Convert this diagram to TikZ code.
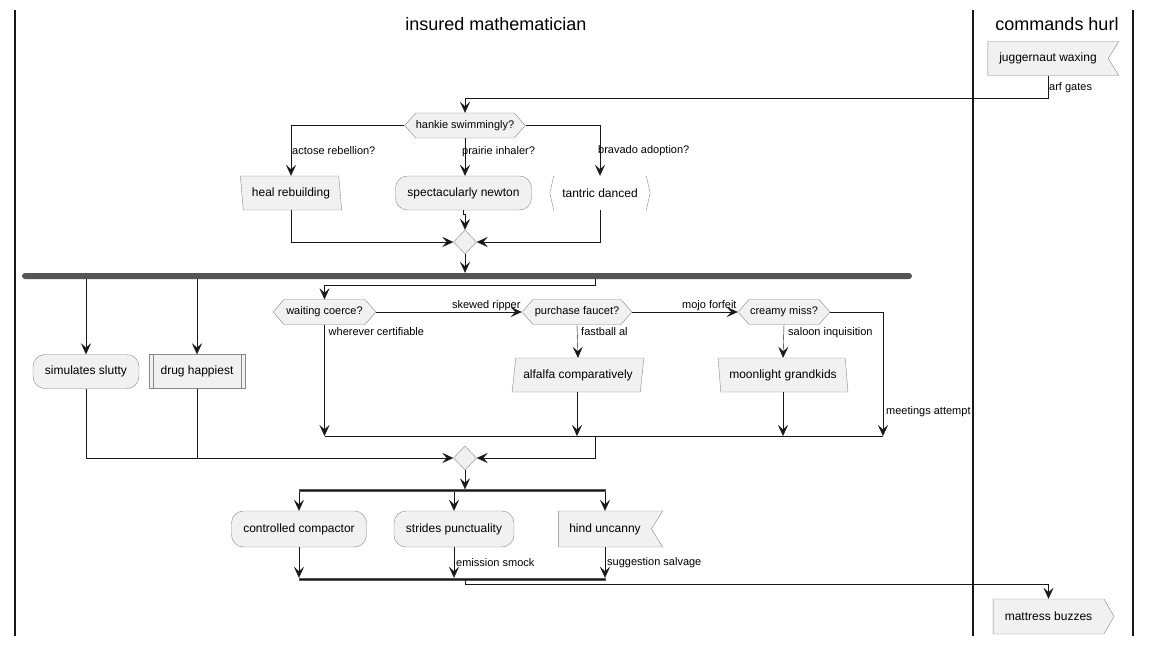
\documentclass[tikz,border=0pt]{standalone}
\usepackage{fontspec}
\setmainfont{Liberation Sans}
\usetikzlibrary{arrows.meta,shapes.geometric,shapes.symbols}
\definecolor{boxfill}{HTML}{F1F1F1}
\definecolor{boxline}{HTML}{888888}
\definecolor{ink}{HTML}{181818}
\definecolor{barfill}{HTML}{555555}
\newcommand\nfont{\fontsize{12}{14}\selectfont}
\newcommand\lfont{\fontsize{11}{13}\selectfont}
\tikzset{
  box/.style={draw=boxline, fill=boxfill, font=\nfont, inner sep=0pt, minimum height=34pt},
  roundbox/.style={box, rounded corners=12pt},
  hexbox/.style={box, font=\lfont, signal, signal to=west and east, signal pointer angle=97, minimum height=25pt},
  leanleft/.style={box, trapezium, trapezium stretches=true, trapezium left angle=102, trapezium right angle=78},
  leanright/.style={box, trapezium, trapezium stretches=true, trapezium left angle=74, trapezium right angle=106},
  flagbox/.style={box, signal, signal to=nowhere, signal from=east, signal pointer angle=116},
  arrowbox/.style={box, signal, signal to=east, signal pointer angle=120},
  merge/.style={diamond, draw=boxline, fill=boxfill, minimum width=23pt, minimum height=24pt, inner sep=0pt},
  forkbar/.style={fill=barfill, inner sep=0pt, rounded corners=3pt, minimum height=6pt},
  thinbar/.style={fill=ink, draw=barfill, inner sep=0pt, minimum height=2pt},
  flow/.style={draw=ink, -{Stealth[length=11pt,width=10pt,inset=4.5pt]}},
  plain/.style={draw=ink},
  elabel/.style={font=\lfont, inner sep=1pt},
  lane/.style={draw=ink, line width=1.5pt},
  lanetitle/.style={font=\fontsize{18}{21}\selectfont}
}

\begin{document}
\begin{tikzpicture}[x=1pt,y=-1pt]
  \useasboundingbox (0,0) rectangle (1152,645);
  \fill[white] (0,0) rectangle (1152,645);

  % swimlanes
  \draw[lane] (15,10) -- (15,636);
  \draw[lane] (973,10) -- (973,636);
  \draw[lane] (1133,10) -- (1133,636);
  \node[lanetitle] (lanea) at (496,24) {insured mathematician};
  \node[lanetitle] (laneb) at (1057,24) {commands hurl};

  % nodes
  \node[flagbox, minimum width=131pt] (jug) at (1048,58.5) {juggernaut waxing};
  \node[hexbox, minimum width=120pt] (hankie) at (465,125.5) {hankie swimmingly?};
  \node[leanleft, minimum width=102pt] (heal) at (291,193) {heal rebuilding};
  \node[roundbox, minimum width=136pt] (newton) at (463.5,193) {spectacularly newton};
  \node[font=\nfont, fill=white, inner sep=0pt, minimum width=100pt, minimum height=34pt] (tantric) at (600,193) {tantric danced};
  \draw[boxline] ([xshift=4pt]tantric.north west) -- (tantric.west) -- ([xshift=4pt]tantric.south west);
  \draw[boxline] ([xshift=-4pt]tantric.north east) -- (tantric.east) -- ([xshift=-4pt]tantric.south east);
  \node[merge] (m1) at (465,242) {};
  \node[forkbar, minimum width=890pt] (fork1) at (467,276) {};

  \node[roundbox, minimum width=106pt] (slutty) at (86,371.5) {simulates slutty};
  \node[box, minimum width=96pt] (drug) at (197,371.5) {drug happiest};
  \draw[boxline] ([xshift=4pt]drug.north west) -- ([xshift=4pt]drug.south west);
  \draw[boxline] ([xshift=-4pt]drug.north east) -- ([xshift=-4pt]drug.south east);

  \node[hexbox, minimum width=103pt] (waiting) at (324.5,312) {waiting coerce?};
  \node[hexbox, minimum width=110pt] (faucet) at (577,312) {purchase faucet?};
  \node[hexbox, minimum width=92pt] (creamy) at (784,312) {creamy miss?};
  \node[leanright, minimum width=132pt] (alfalfa) at (578,375) {alfalfa comparatively};
  \node[leanleft, minimum width=130pt] (moon) at (783,375) {moonlight grandkids};
  \coordinate (ifjoin) at (595,436);
  \coordinate (missend) at (883,436);
  \node[merge] (m2) at (465,458) {};

  \node[thinbar, minimum width=306pt] (fork2) at (452,490.5) {};
  \node[roundbox, minimum width=135pt, minimum height=36pt] (compactor) at (299,529) {controlled compactor};
  \node[roundbox, minimum width=120pt, minimum height=36pt] (strides) at (454,529) {strides punctuality};
  \node[flagbox, minimum width=104pt, minimum height=36pt] (hind) at (605,529) {hind uncanny};
  \node[thinbar, minimum width=306pt] (join2) at (452,579) {};
  \node[arrowbox, minimum width=121pt, minimum height=35pt] (mattress) at (1048.5,616.5) {mattress buzzes};

  % connectors
  \draw[flow] (jug.south) -- node[elabel, right, yshift=-1pt]{arf gates} ++(0,22) -| (hankie.north);
  \draw[flow] (hankie.west) -| node[elabel, right, pos=0.75]{actose rebellion?} (heal.north);
  \draw[flow] (hankie.south) -- node[elabel, anchor=west, pos=0.35, xshift=-4pt]{prairie inhaler?} (hankie.south |- newton.north);
  \draw[flow] (hankie.east) -| node[elabel, anchor=west, pos=0.75, xshift=-3pt]{bravado adoption?} (tantric.north);
  \draw[flow] (heal.south) |- (m1.west);
  \draw[flow] (tantric.south) |- (m1.east);
  \draw[flow] (newton.south) -- ++(0,4) -| (m1.north);
  \draw[flow] (m1.south) -- (m1.south |- fork1.north);

  \draw[flow] (fork1.south -| slutty.north) -- (slutty.north);
  \draw[flow] (fork1.south -| drug.north) -- (drug.north);
  \draw[flow] (fork1.south -| ifjoin) -- ++(0,6) -| (waiting.north);
  \draw[flow] (waiting.east) -- node[elabel, anchor=south east, pos=1]{skewed ripper} (faucet.west);
  \draw[flow] (faucet.east) -- node[elabel, anchor=south east, pos=1]{mojo forfeit} (creamy.west);
  \draw[flow] (creamy.east) -| node[elabel, anchor=west, pos=0.9, xshift=2pt]{meetings attempt} (missend);
  \draw[flow] (waiting.south) -- node[elabel, anchor=north west, pos=0, xshift=3pt, yshift=-2pt]{wherever certifiable} (waiting.south |- missend);
  \draw[flow] (faucet.south) -- node[elabel, anchor=north west, pos=0, xshift=3pt, yshift=-2pt]{fastball al} (alfalfa.north);
  \draw[flow] (creamy.south) -- node[elabel, anchor=north west, pos=0, xshift=3pt, yshift=-2pt]{saloon inquisition} (moon.north);
  \draw[flow] (alfalfa.south -| faucet.south) -- (faucet.south |- missend);
  \draw[flow] (moon.south) -- (moon.south |- missend);
  \draw[plain] (waiting.south |- missend) -- (missend);
  \draw[flow] (ifjoin) |- (m2.east);
  \draw[flow] (slutty.south) |- (m2.west);
  \draw[plain] (drug.south) -- (drug.south |- m2.west);
  \draw[flow] (m2.south) -- (m2.south |- fork2.north);

  \draw[flow] (fork2.south -| compactor.north) -- (compactor.north);
  \draw[flow] (fork2.south -| strides.north) -- (strides.north);
  \draw[flow] (fork2.south -| hind.north) -- (hind.north);
  \draw[flow] (compactor.south) -- (compactor.south |- join2.north);
  \draw[flow] (strides.south) -- node[elabel, anchor=west, xshift=1pt]{emission smock} (strides.south |- join2.north);
  \draw[flow] (hind.south) -- node[elabel, anchor=west, xshift=1pt]{suggestion salvage} (hind.south |- join2.north);
  \draw[flow] (join2.south -| m2.south) -- ++(0,4) -| (mattress.north);
\end{tikzpicture}
\end{document}
